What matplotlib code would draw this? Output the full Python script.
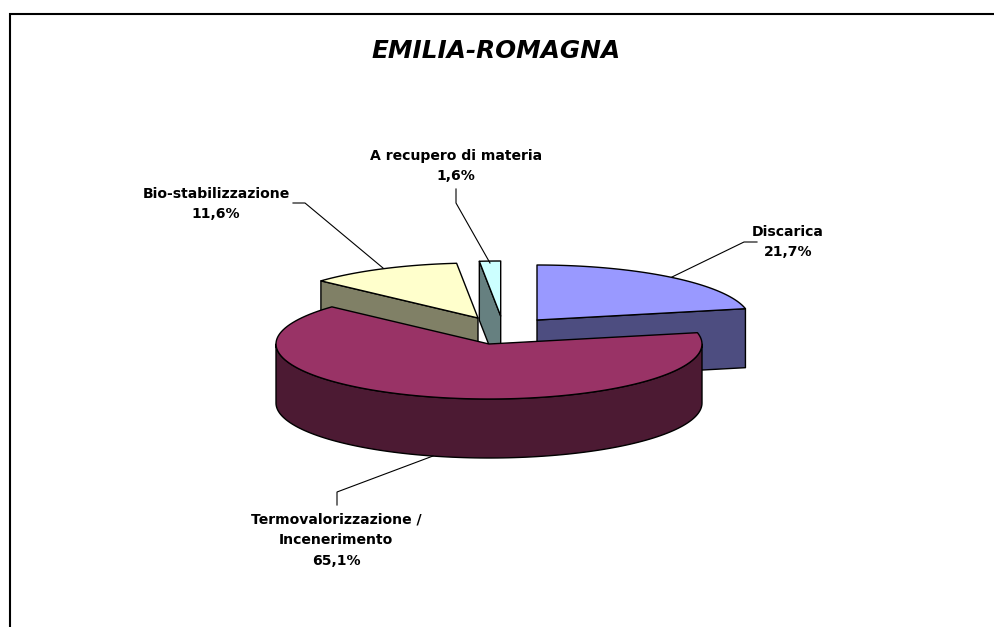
#!/usr/bin/env python3
# coding=utf-8

import numpy as np
import matplotlib
matplotlib.use('Agg')
import matplotlib.pyplot as plt
from matplotlib.patches import Polygon

labels = ['Discarica', 'Termovalorizzazione /\nIncenerimento', 'Bio-stabilizzazione', 'A recupero di materia']
values = [21.7, 65.1, 11.6, 1.6]
value_labels = ['21,7%', '65,1%', '11,6%', '1,6%']
top_colors = ['#9999FF', '#993366', '#FFFFCC', '#CCFFFF']
side_colors = ['#4D4D80', '#4C1A33', '#808066', '#668080']

# pie geometry in pixels
cx, cy = 489, 344
rx, ry = 213, 55
depth = 59
offsets = [(48, -24), (0, 0), (-11, -26), (11.7, -28)]
# which cut face of each slice can be seen: 1 = end, 0 = start, None = hidden
open_face = [1, None, 0, 0]
label_pos = [(788, 242), (336, 540), (216, 204), (456, 166)]
leaders = [
    [(672, 277), (744, 242), (757, 242)],
    [(433, 456), (337, 492), (337, 505)],
    [(383, 268), (305, 203), (293, 203)],
    [(490, 263), (456, 203), (456, 189)],
]

fig = plt.figure(figsize=(9.94, 6.27), dpi=100)
ax = fig.add_axes([0, 0, 1, 1])
ax.set_xlim(0, 994)
ax.set_ylim(627, 0)
ax.axis('off')

# frame, only left and top are inside the picture
ax.plot([10, 10, 994], [627, 14, 14], color='black', lw=1.5, solid_joinstyle='miter')


def rim(a0, a1, ox, oy, n=120):
    t = np.radians(np.linspace(a0, a1, n))
    return np.column_stack([cx + ox + rx * np.sin(t), cy + oy - ry * np.cos(t)])


def draw_slice(i, a0, a1):
    ox, oy = offsets[i]
    apex = np.array([cx + ox, cy + oy])
    drop = np.array([0, depth])
    kw = dict(edgecolor='black', lw=1.0, joinstyle='round')

    if open_face[i] is not None:
        a = (a0, a1)[open_face[i]]
        p = rim(a, a, ox, oy, 1)[0]
        ax.add_patch(Polygon([apex, p, p + drop, apex + drop], facecolor=side_colors[i], **kw))

    # outer wall, only the front half shows
    lo, hi = max(a0, 90), min(a1, 270)
    if lo < hi:
        r = rim(lo, hi, ox, oy)
        ax.add_patch(Polygon(np.vstack([r, (r + drop)[::-1]]), facecolor=side_colors[i], **kw))

    r = rim(a0, a1, ox, oy)
    ax.add_patch(Polygon(np.vstack([apex, r]), facecolor=top_colors[i], **kw))


angles = np.cumsum([0] + values) / sum(values) * 360
for i in [3, 2, 0, 1]:
    draw_slice(i, angles[i], angles[i + 1])

for line in leaders:
    ax.plot([p[0] for p in line], [p[1] for p in line], color='black', lw=0.8)

font = 'DejaVu Sans'
for i in range(len(labels)):
    ax.text(label_pos[i][0], label_pos[i][1], labels[i] + '\n' + value_labels[i],
            ha='center', va='center', fontsize=10.1, fontweight='bold', family=font, linespacing=1.6)

ax.text(496, 51, 'EMILIA-ROMAGNA', ha='center', va='center', fontsize=17.8,
        fontweight='bold', fontstyle='italic', family=font)

fig.savefig('out.png', dpi=100)
